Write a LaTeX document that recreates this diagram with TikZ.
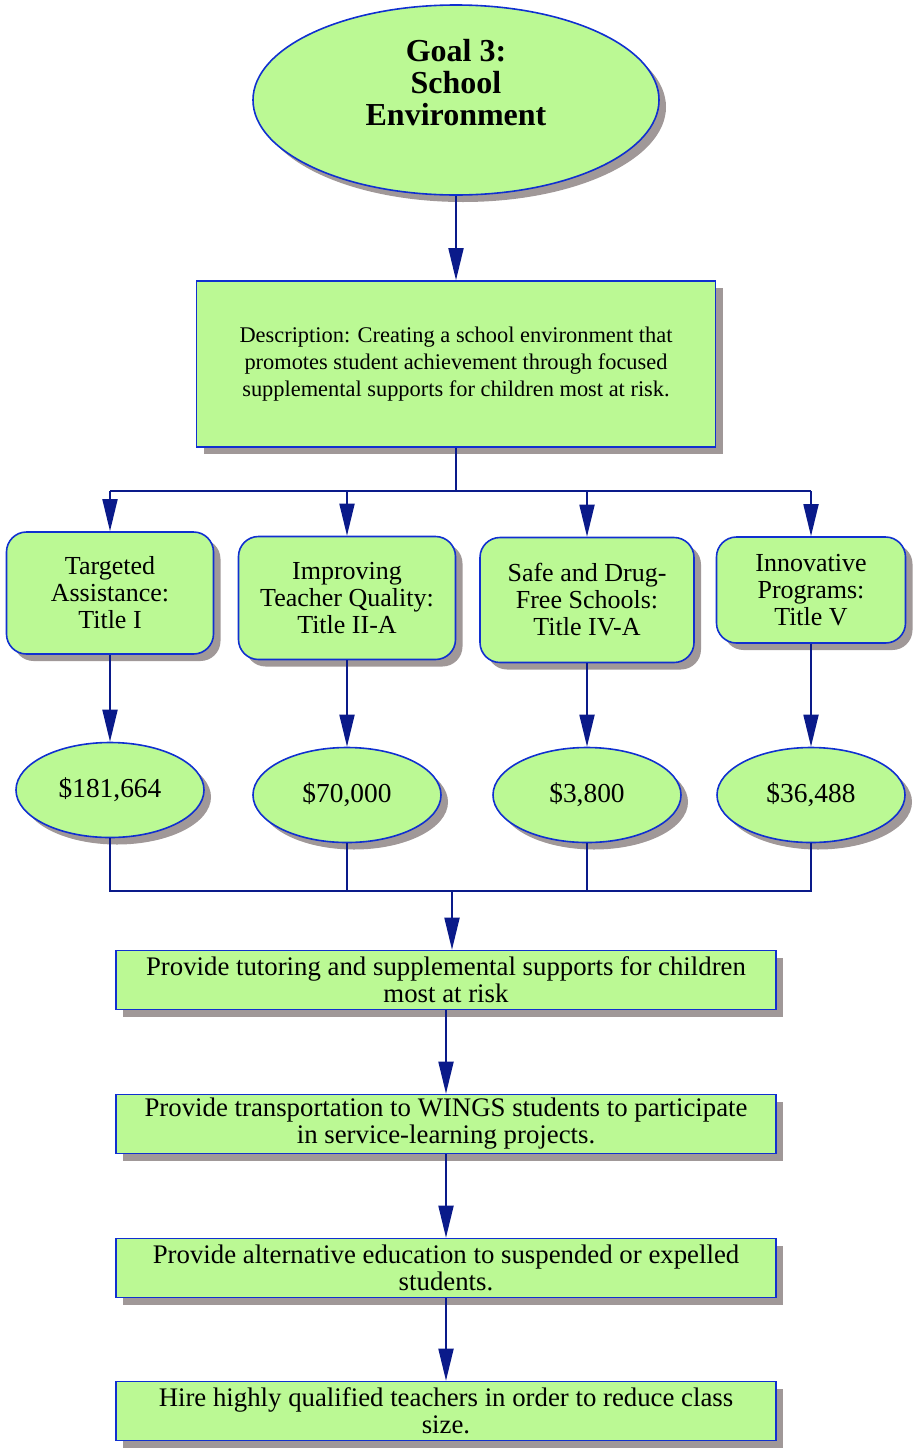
\documentclass[tikz,border=0pt]{standalone}
\usepackage{fontspec}
\setmainfont{Liberation Serif}
\usepackage{xcolor}
\usetikzlibrary{shapes.geometric,shadows,arrows.meta}
\definecolor{leafgreen}{HTML}{BBF994}
\definecolor{rimblue}{HTML}{1030D0}
\definecolor{linknavy}{HTML}{0A1A8A}
\definecolor{shadegray}{HTML}{A09898}

\begin{document}
\begin{tikzpicture}[x=1pt,y=-1pt]
\tikzset{shaded/.style={fill=leafgreen,draw=rimblue,line width=1.6pt,inner sep=0pt,align=center,general shadow={fill=shadegray,shadow xshift=7pt,shadow yshift=-7pt}}}
\tikzset{goalnode/.style={shaded,ellipse,minimum width=406pt,minimum height=190pt}}
\tikzset{infobox/.style={shaded,rectangle,minimum width=519pt,minimum height=166pt,font=\fontsize{22.4}{27}\selectfont}}
\tikzset{fundbox/.style={shaded,rectangle,rounded corners=20pt,font=\fontsize{26}{27}\selectfont}}
\tikzset{amountnode/.style={shaded,ellipse,minimum width=188pt,minimum height=95pt,font=\fontsize{27.4}{27}\selectfont}}
\tikzset{actionbox/.style={shaded,rectangle,minimum width=660pt,minimum height=59pt,font=\fontsize{26.8}{27}\selectfont}}
\tikzset{link/.style={draw=linknavy,line width=1.8pt}}
\tikzset{arrowlink/.style={link,-{Triangle[length=32pt,width=15pt,fill=linknavy]}}}

\useasboundingbox (0,0) rectangle (914,1449);

\node[goalnode,label={[yshift=17pt,align=center,font=\bfseries\fontsize{32}{32}\selectfont]center:Goal 3:\\School\\Environment}] (goal) at (456,100) {};
\node[infobox] (info) at (456,364) {Description: Creating a school environment that\\promotes student achievement through focused\\supplemental supports for children most at risk.};

\node[fundbox,minimum width=207pt,minimum height=122pt] (fund1) at (110,593) {Targeted\\Assistance:\\Title I};
\node[fundbox,minimum width=217pt,minimum height=123pt] (fund2) at (347,598) {Improving\\Teacher Quality:\\Title II-A};
\node[fundbox,minimum width=214pt,minimum height=125pt] (fund3) at (587,600) {Safe and Drug-\\Free Schools:\\Title IV-A};
\node[fundbox,minimum width=189pt,minimum height=106pt] (fund4) at (811,590) {Innovative\\Programs:\\Title V};

\node[amountnode] (amt1) at (110,790) {\$181,664};
\node[amountnode] (amt2) at (347,795) {\$70,000};
\node[amountnode] (amt3) at (587,795) {\$3,800};
\node[amountnode] (amt4) at (811,795) {\$36,488};

\node[actionbox] (act1) at (446,980) {Provide tutoring and supplemental supports for children\\most at risk};
\node[actionbox] (act2) at (446,1124) {Provide transportation to WINGS students to participate\\in service-learning projects.};
\node[actionbox] (act3) at (446,1268) {Provide alternative education to suspended or expelled\\students.};
\node[actionbox] (act4) at (446,1411) {Hire highly qualified teachers in order to reduce class\\size.};

\coordinate (splitpt) at (456,491);
\coordinate (mergept) at (452,891);

\draw[arrowlink] (goal) -- (info);
\draw[link] (info) -- (splitpt);
\draw[link] (splitpt -| fund1) -- (splitpt -| fund4);
\foreach \k in {1,2,3,4}
  \draw[arrowlink] (splitpt -| fund\k) -- (fund\k);
\foreach \k in {1,2,3,4}
  \draw[arrowlink] (fund\k) -- (amt\k);
\foreach \k in {1,2,3,4}
  \draw[link] (amt\k) |- (mergept);
\draw[arrowlink] (mergept) -- (mergept |- act1.north);
\draw[arrowlink] (act1) -- (act2);
\draw[arrowlink] (act2) -- (act3);
\draw[arrowlink] (act3) -- (act4);

\end{tikzpicture}
\end{document}
